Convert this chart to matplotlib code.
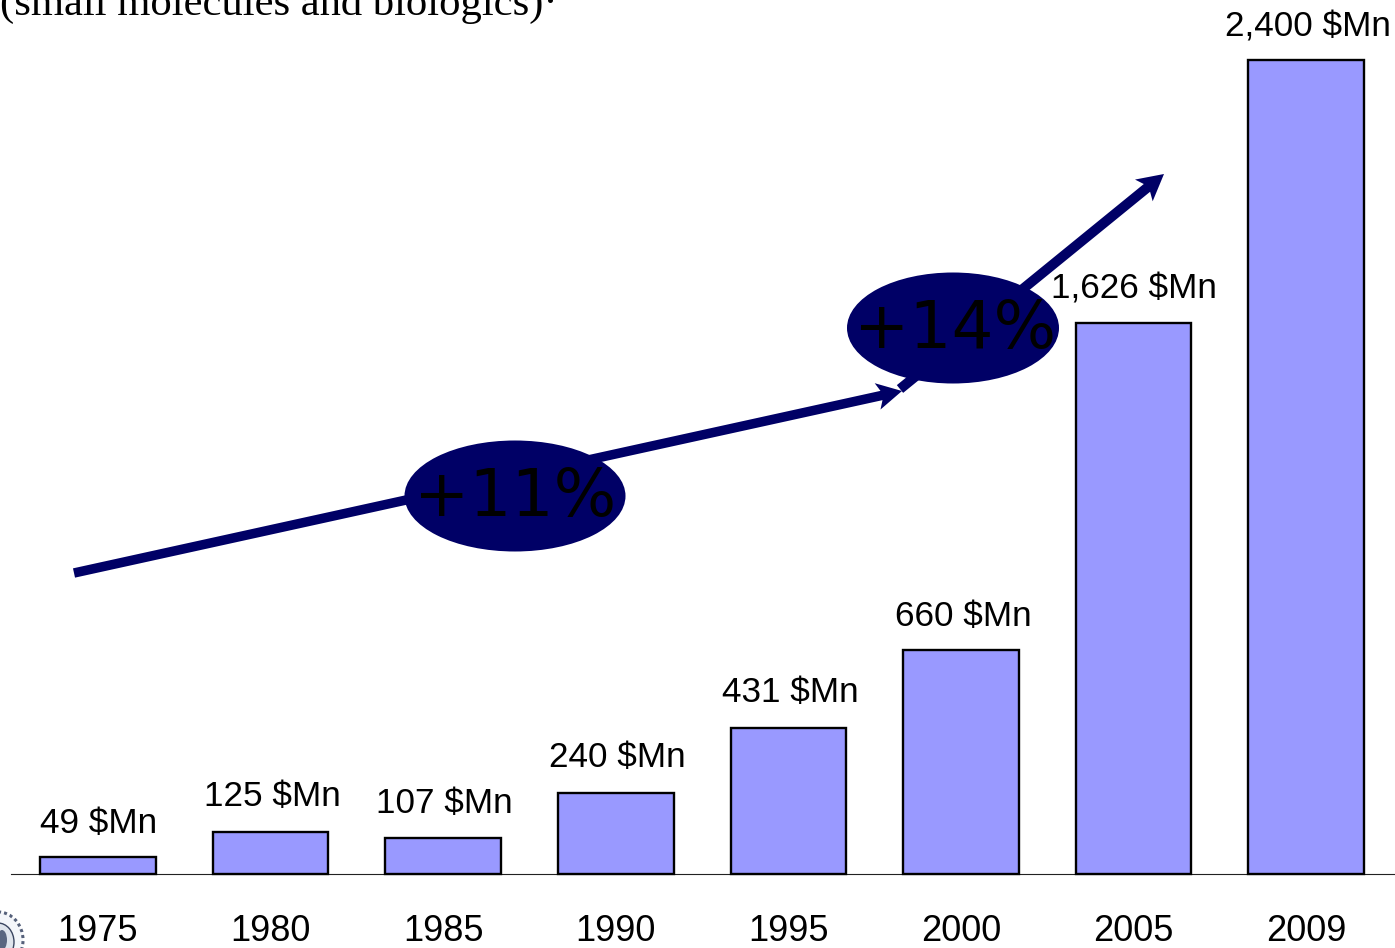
import numpy as np
import matplotlib
matplotlib.use("Agg")
import matplotlib.pyplot as plt
from matplotlib.patches import Ellipse, Polygon

years = ["1975", "1980", "1985", "1990", "1995", "2000", "2005", "2009"]
values = [49, 125, 107, 240, 431, 660, 1626, 2400]
value_labels = ["49 $Mn", "125 $Mn", "107 $Mn", "240 $Mn", "431 $Mn", "660 $Mn", "1,626 $Mn", "2,400 $Mn"]
caption = "(small molecules and biologics)\u00b7"
growth_labels = ["+11%", "+14%"]

W, H = 1395, 948
NAVY = "#000066"
BAR = "#9999FF"
SANS = "Liberation Sans"

fig = plt.figure(figsize=(W / 100, H / 100), dpi=100, facecolor="white")

# main chart axes: pixel box x 11..1395, y 60..874
ax = fig.add_axes([11 / W, (H - 874) / H, (1395 - 11) / W, (874 - 60) / H])
step, x0 = 172.6, 98
ax.set_xlim((11 - x0) / step, (1395 - x0) / step)
ax.set_ylim(0, 2400)
x = np.arange(len(values))
ax.bar(x, values, width=115.5 / step, color=BAR, edgecolor="black", linewidth=1.7, zorder=3, clip_on=False)
for s in ["top", "left", "right"]:
    ax.spines[s].set_visible(False)
ax.spines["bottom"].set_linewidth(0.8)
ax.spines["bottom"].set_color("#222222")
ax.set_yticks([])
ax.set_xticks(x)
ax.set_xticklabels(years, family=SANS, fontsize=26)
ax.tick_params(axis="x", length=0, pad=29)
ax.patch.set_alpha(0)

label_dy = [12.5, 13.5, 12.5, 13.5, 13.5, 12.5, 12, 12]
label_dx = [0.5, 1.5, 1, 1.2, 1.5, 1.5, 0.5, 1]
for xi, v, lab, dy, dx in zip(x, values, value_labels, label_dy, label_dx):
    ax.annotate(lab, (xi, v), xytext=(dx, dy), textcoords="offset points",
                ha="center", va="bottom", family=SANS, fontsize=25.3, annotation_clip=False)

# overlay in pixel coordinates for annotations
ov = fig.add_axes([0, 0, 1, 1], zorder=5)
ov.set_xlim(0, W)
ov.set_ylim(H, 0)
ov.axis("off")


def arrow(p0, p1, width=7.0, head_len=25.0, head_w=24.0, notch=4.0, z=4):
    p0, p1 = np.array(p0, float), np.array(p1, float)
    d = (p1 - p0) / np.linalg.norm(p1 - p0)
    n = np.array([-d[1], d[0]])
    neck = p1 - d * (head_len - notch)
    base = p1 - d * head_len
    pts = [p0 + n * width / 2, neck + n * width / 2, base + n * head_w / 2, p1,
           base - n * head_w / 2, neck - n * width / 2, p0 - n * width / 2]
    ov.add_patch(Polygon(pts, closed=True, facecolor=NAVY, edgecolor="none", zorder=z))


arrow((900, 389), (1164, 174), width=10, head_len=26, head_w=28, z=3)
arrow((74, 573), (902, 391), width=9.5, head_len=25, head_w=27, z=4)

ov.add_patch(Ellipse((515, 496), 221, 111, facecolor=NAVY, edgecolor="none", zorder=5))
ov.add_patch(Ellipse((953, 328), 212, 111, facecolor=NAVY, edgecolor="none", zorder=5))
ov.text(515, 498, growth_labels[0], ha="center", va="center", family="DejaVu Sans", fontsize=47.5, color="black", zorder=6)
ov.text(955, 330, growth_labels[1], ha="center", va="center", family="DejaVu Sans", fontsize=47.5, color="black", zorder=6)

# clipped caption at the top
ov.text(0, 15, caption, ha="left", va="baseline", family="Liberation Serif", fontsize=30.7, color="black", clip_on=True)

# partial seal at bottom-left
ov.add_patch(Ellipse((-2, 940), 50, 56, facecolor="#f4f6fa", edgecolor="#55607a", linewidth=2.2, linestyle=(0, (1, 1)), zorder=4))
ov.add_patch(Ellipse((-2, 942), 32, 38, facecolor="#dfe4ec", edgecolor="#3a4560", linewidth=1.0, zorder=4))
ov.add_patch(Ellipse((2, 940), 10, 20, facecolor="#5a6680", edgecolor="none", zorder=4))

fig.savefig("out.png", dpi=100, facecolor="white")
